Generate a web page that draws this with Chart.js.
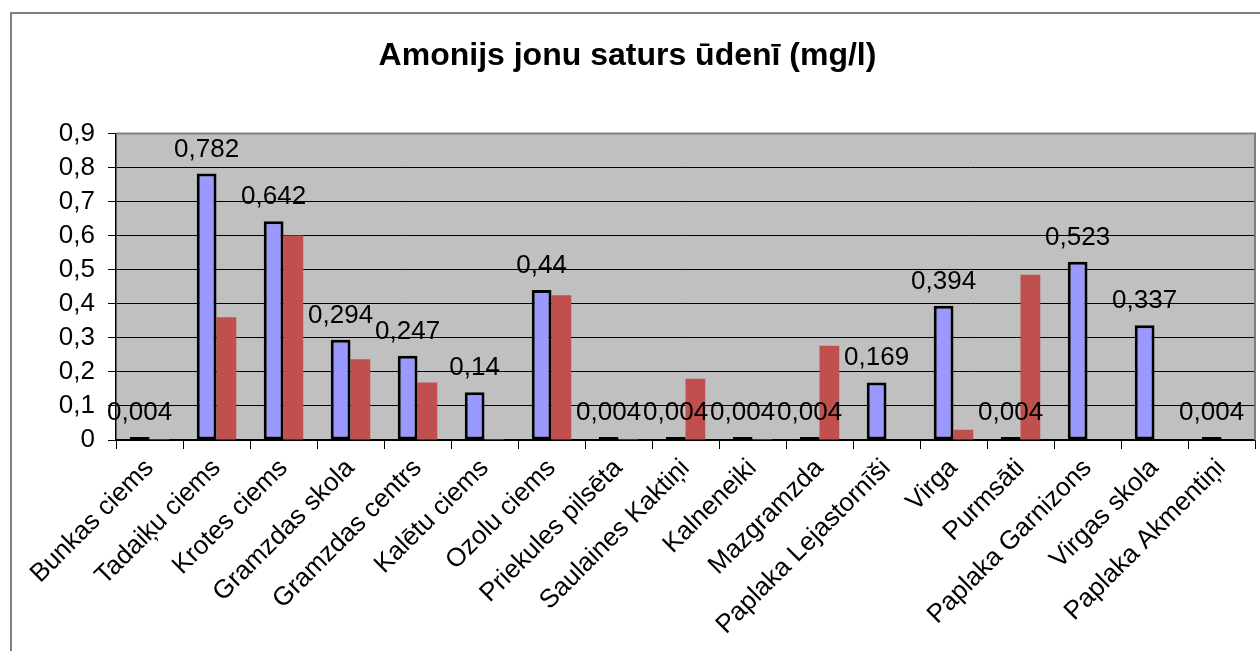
<!DOCTYPE html>
<html>
<head>
<meta charset="utf-8">
<title>Amonijs</title>
<script src="https://cdn.jsdelivr.net/npm/chart.js@4/dist/chart.umd.min.js"></script>
<style>
body{margin:0;background:#fff;overflow:hidden;}
#wrap{position:relative;width:1260px;height:651px;}
#frame{position:absolute;left:10px;top:12px;width:1300px;height:700px;border-left:2px solid #808080;border-top:2px solid #808080;}
#myChart{position:absolute;left:0;top:0;}
</style>
</head>
<body>
<div id="wrap">
<div id="frame"></div>
<canvas id="myChart" width="1260" height="651"></canvas>
</div>
<script>
'use strict';
// names of places
let placeNames=['Bunkas ciems','Tadaiķu ciems','Krotes ciems','Gramzdas skola','Gramzdas centrs','Kalētu ciems','Ozolu ciems','Priekules pilsēta','Saulaines Kaktiņi','Kalneneiki','Mazgramzda','Paplaka Lejastornīši','Virga','Purmsāti','Paplaka Garnizons','Virgas skola','Paplaka Akmentiņi'];
// first series (blue, labelled)
let blueValues=[0.004,0.782,0.642,0.294,0.247,0.14,0.44,0.004,0.004,0.004,0.004,0.169,0.394,0.004,0.523,0.337,0.004];
// second series (red)
let redValues=[0.001,0.36,0.6,0.237,0.169,0.001,0.425,0.001,0.18,0.001,0.277,null,0.03,0.485,null,null,null];
// y axis
let yTicks=[0,0.1,0.2,0.3,0.4,0.5,0.6,0.7,0.8,0.9];
let titleText='Amonijs jonu saturs ūdenī (mg/l)';

let fontName='"Liberation Sans", Arial, sans-serif';

function commaNum(v){
  return String(v).replace('.',',');
}

// gray plot background + gray top/right border
let plotBg={
  id:'plotBg',
  beforeDraw(chart){
    let a=chart.chartArea;
    let c=chart.ctx;
    c.save();
    c.fillStyle='#C0C0C0';
    c.fillRect(a.left,a.top,a.right-a.left,a.bottom-a.top);
    c.restore();
  },
  afterDraw(chart){
    let a=chart.chartArea;
    let c=chart.ctx;
    c.save();
    c.strokeStyle='#808080';
    c.lineWidth=2;
    c.beginPath();
    c.moveTo(a.left,a.top);
    c.lineTo(a.right,a.top);
    c.lineTo(a.right,a.bottom);
    c.stroke();
    c.restore();
  }
};

// value labels over the blue bars
let barLabels={
  id:'barLabels',
  afterDatasetsDraw(chart){
    let c=chart.ctx;
    let meta=chart.getDatasetMeta(0);
    c.save();
    c.font='26px '+fontName;
    c.fillStyle='#000';
    c.textAlign='center';
    c.textBaseline='alphabetic';
    meta.data.forEach(function(bar,i){
      c.fillText(commaNum(blueValues[i]),bar.x,bar.y-17);
    });
    c.restore();
  }
};

let ctx=document.getElementById('myChart').getContext('2d');
let myChart=new Chart(ctx,{
  type:'bar',
  data:{
    labels:placeNames,
    datasets:[{
      data:blueValues,
      backgroundColor:'#9999FF',
      borderColor:'#000',
      borderWidth:3,
      borderSkipped:false,
      minBarLength:3
    },{
      data:redValues,
      backgroundColor:'#C0504D',
      borderWidth:0,
      minBarLength:1
    }]
  },
  options:{
    responsive:false,
    animation:false,
    layout:{padding:{left:0,right:5,top:0,bottom:0}},
    datasets:{bar:{barPercentage:1,categoryPercentage:0.59}},
    plugins:{
      legend:{display:false},
      tooltip:{enabled:false},
      title:{
        display:true,
        text:titleText,
        color:'#000',
        font:{family:fontName,size:32,weight:'bold'},
        padding:{top:37,bottom:58}
      }
    },
    scales:{
      x:{
        grid:{drawOnChartArea:false,color:'#000',tickLength:9,offset:true},
        border:{color:'#000',width:1.5},
        ticks:{
          color:'#000',
          autoSkip:false,
          maxRotation:45,
          minRotation:45,
          padding:4,
          font:{family:fontName,size:26}
        },
        afterFit(scale){scale.height=211;}
      },
      y:{
        min:0,
        max:0.9,
        afterBuildTicks(scale){
          scale.ticks=yTicks.map(function(v){return {value:v};});
        },
        grid:{color:'#000',lineWidth:1,tickLength:8},
        border:{color:'#000',width:1.5},
        ticks:{
          color:'#000',
          autoSkip:false,
          padding:13,
          font:{family:fontName,size:26},
          callback:function(v){
            return v===0?'0':v.toFixed(1).replace('.',',');
          }
        },
        afterFit(scale){scale.width=116;}
      }
    }
  },
  plugins:[plotBg,barLabels]
});
</script>
</body>
</html>
